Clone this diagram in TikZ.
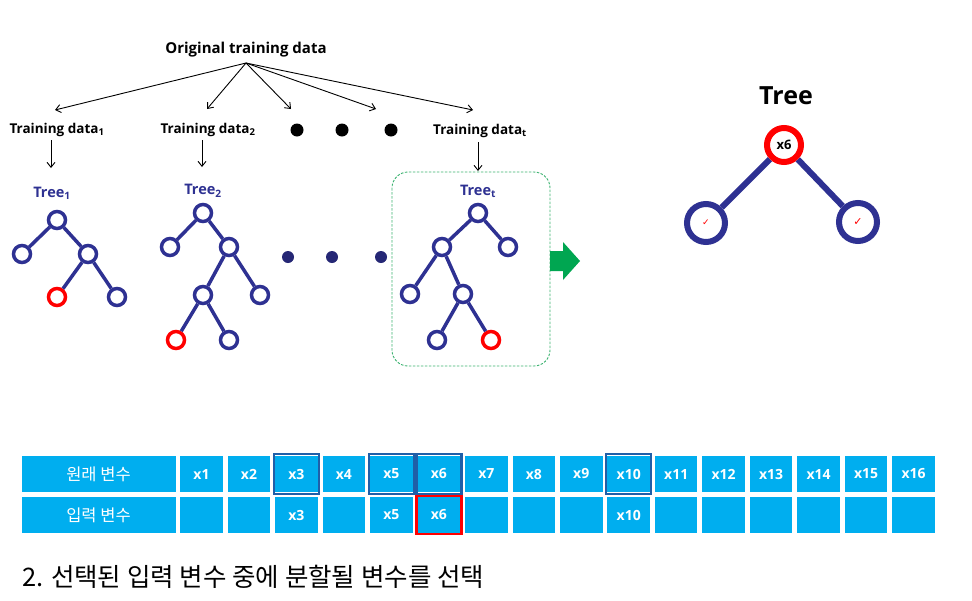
\documentclass[tikz,border=0pt]{standalone}
\usepackage{fontspec}
\setmainfont{Open Sans}
\newfontfamily\kr{Noto Sans CJK KR}
\newfontfamily\symfont{DejaVu Sans}
\usetikzlibrary{arrows.meta,calc}
\definecolor{navy}{HTML}{2E3192}
\definecolor{cellblue}{HTML}{00AEEF}
\definecolor{hiblue}{HTML}{1F5FA8}
\definecolor{gbox}{HTML}{3CB371}
\definecolor{garrow}{HTML}{00A651}
\begin{document}
\begin{tikzpicture}[x=1pt,y=-1pt,
  tn/.style={circle,draw=navy,line width=3.5pt,fill=white,minimum size=17pt,inner sep=0pt},
  rn/.style={tn,draw=red},
  edge/.style={draw=navy,line width=3.5pt},
  arr/.style={-{Straight Barb[length=5pt,width=8pt]},line width=0.9pt},
  lbl/.style={font=\fontsize{13.5}{15}\selectfont\bfseries,inner sep=1pt},
  tlbl/.style={font=\fontsize{14.5}{16}\selectfont\bfseries,text=navy,inner sep=1pt},
  cell/.style={fill=cellblue,minimum width=42.5pt,minimum height=36pt,inner sep=0pt,text=white,font=\fontsize{14}{16}\selectfont\bfseries},
  hcell/.style={draw=hiblue,line width=2.5pt,minimum width=45pt,minimum height=40pt,inner sep=0pt},
  bigdot/.style={circle,fill=black,minimum size=13pt,inner sep=0pt},
  ndot/.style={circle,fill=navy!80!black,minimum size=12pt,inner sep=0pt}
]
\useasboundingbox (0,0) rectangle (972,600);
\fill[white] (0,0) rectangle (972,600);

% top
\node[font=\fontsize{15}{17}\selectfont\bfseries] (orig) at (246,50) {Original training data};
\coordinate (o) at (246,63);
\node[lbl] (td1) at (57,130) {Training data\textsubscript{1}};
\node[lbl] (td2) at (208,130) {Training data\textsubscript{2}};
\node[bigdot] (d1) at (297,130) {};
\node[bigdot] (d2) at (342,130) {};
\node[bigdot] (d3) at (391,130) {};
\node[lbl] (tdt) at (480,131) {Training data\textsubscript{t}};
\coordinate (a1) at (55,110);
\coordinate (a2) at (207,109);
\coordinate (a3) at (291,109);
\coordinate (a4) at (376,109);
\coordinate (a5) at (473,110);
\foreach \t in {a1,a2,a3,a4,a5} \draw[arr] (o) -- (\t);
\draw[arr] (51,140) -- (51,168);
\draw[arr] (202,140) -- (202,167);
\draw[arr] (478,142) -- (478,171);

% Tree 1
\node[tlbl] (l1) at (52,193) {Tree\textsubscript{1}};
\node[tn] (t1r) at (57,220) {};
\node[tn] (t1a) at (22,254) {};
\node[tn] (t1b) at (88,254) {};
\node[rn] (t1c) at (57,297) {};
\node[tn] (t1d) at (117,297) {};
\draw[edge] (t1r)--(t1a) (t1r)--(t1b) (t1b)--(t1c) (t1b)--(t1d);

% Tree 2
\node[tlbl] (l2) at (203,191) {Tree\textsubscript{2}};
\node[tn] (t2r) at (203,213) {};
\node[tn] (t2a) at (170,247) {};
\node[tn] (t2b) at (229,247) {};
\node[tn] (t2c) at (203,295) {};
\node[tn] (t2d) at (260,295) {};
\node[rn] (t2e) at (176,340) {};
\node[tn] (t2f) at (229,340) {};
\draw[edge] (t2r)--(t2a) (t2r)--(t2b) (t2b)--(t2c) (t2b)--(t2d) (t2c)--(t2e) (t2c)--(t2f);

% dots
\node[ndot] (e1) at (288,257) {};
\node[ndot] (e2) at (332,257) {};
\node[ndot] (e3) at (381,257) {};

% Tree t box
\draw[gbox,line width=0.9pt,dash pattern=on 2.5pt off 1.5pt,rounded corners=16pt] (392,172) rectangle (550,366);
\node[tlbl] (lt) at (478,191) {Tree\textsubscript{t}};
\node[tn] (ttr) at (478,213) {};
\node[tn] (tta) at (442,247) {};
\node[tn] (ttb) at (508,247) {};
\node[tn] (ttc) at (410,294) {};
\node[tn] (ttd) at (463,294) {};
\node[tn] (tte) at (437,340) {};
\node[rn] (ttf) at (491,340) {};
\draw[edge] (ttr)--(tta) (ttr)--(ttb) (tta)--(ttc) (tta)--(ttd) (ttd)--(tte) (ttd)--(ttf);

% green arrow
\fill[garrow] (550,251) -- (563,251) -- (563,242) -- (580,261) -- (563,280) -- (563,271) -- (550,271) -- cycle;

% Right tree
\node[font=\fontsize{25}{28}\selectfont\bfseries] (tree) at (786,96) {Tree};
\node[circle,draw=red,line width=6pt,fill=white,minimum size=34pt,inner sep=0pt,font=\fontsize{13}{15}\selectfont\bfseries] (R) at (784,145) {x6};
\node[circle,draw=navy,line width=6pt,fill=white,minimum size=38pt,inner sep=0pt,text=red,font=\symfont\fontsize{9}{10}\selectfont] (RL) at (706,223) {✓};
\node[circle,draw=navy,line width=6pt,fill=white,minimum size=38pt,inner sep=0pt,text=red,font=\symfont\fontsize{11}{12}\selectfont] (RR) at (858,222) {✓};
\draw[navy,line width=6pt] (R) -- (RL);
\draw[navy,line width=6pt] (R) -- (RR);

% table
\node[cell,minimum width=154pt,font=\kr\fontsize{16.5}{18}\selectfont] (h1) at (98.5,474) {원래 변수};
\node[cell,minimum width=154pt,font=\kr\fontsize{16.5}{18}\selectfont] (h2) at (98.5,515) {입력 변수};
\foreach \i in {1,...,16} {
  \pgfmathsetmacro{\cx}{201.5+(\i-1)*47.47}
  \node[cell] (c\i) at (\cx,474) {x\i};
}
\foreach \i/\t in {1/,2/,3/x3,4/,5/x5,6/x6,7/,8/,9/,10/x10,11/,12/,13/,14/,15/,16/} {
  \pgfmathsetmacro{\cx}{201.5+(\i-1)*47.47}
  \node[cell] (r\i) at (\cx,515) {\t};
}
\node[hcell] (k3) at (c3) {};
\node[hcell] (k5) at (c5) {};
\node[hcell] (k6) at (c6) {};
\node[hcell] (k10) at (c10) {};
\node[draw=red,line width=2.5pt,minimum width=45pt,minimum height=38pt,inner sep=0pt] (k6b) at (r6) {};

% bottom text
\node[anchor=west,font=\kr\fontsize{25.5}{28}\selectfont,inner sep=0pt] (cap) at (22,577) {2. 선택된 입력 변수 중에 분할될 변수를 선택};
\end{tikzpicture}
\end{document}
